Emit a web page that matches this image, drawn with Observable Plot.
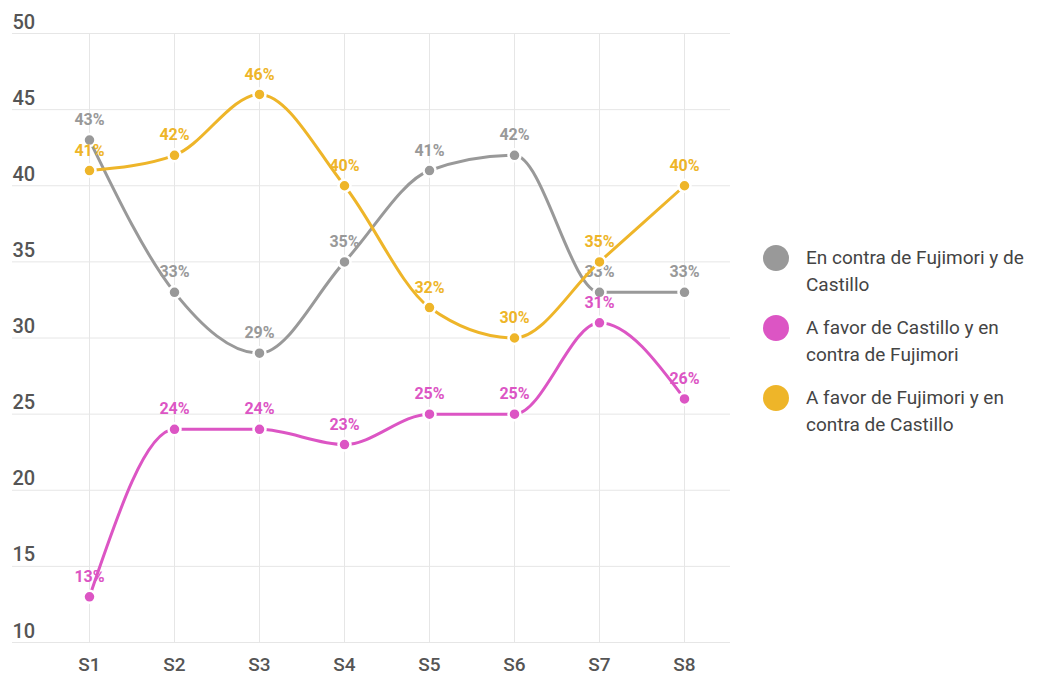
<!DOCTYPE html>
<html>
<head>
<meta charset="utf-8">
<script src="https://cdn.jsdelivr.net/npm/d3@7"></script>
<script src="https://cdn.jsdelivr.net/npm/@observablehq/plot@0.6"></script>
<style>
  body { margin: 0; background: #fff; font-family: Roboto, "Noto Sans", sans-serif; }
  #wrap { display: flex; align-items: center; width: 1047px; height: 675px; }
  #legend { margin-left: 18px; width: 284px; padding-top: 22px; }
  .item { display: flex; align-items: flex-start; margin: 0 0 16px 0; }
  .sw { width: 26px; height: 26px; border-radius: 50%; flex: none; margin-top: 1px; }
  .lab { margin-left: 17px; font-size: 19px; line-height: 27px; color: #444; }
</style>
</head>
<body>
<div id="wrap"><div id="chart"></div><div id="legend"></div></div>
<script>
const categories = ["S1", "S2", "S3", "S4", "S5", "S6", "S7", "S8"];
const seriesNames = [
  "En contra de Fujimori y de Castillo",
  "A favor de Castillo y en contra de Fujimori",
  "A favor de Fujimori y en contra de Castillo"
];
const enContraAmbos = [43, 33, 29, 35, 41, 42, 33, 33];
const aFavorCastillo = [13, 24, 24, 23, 25, 25, 31, 26];
const aFavorFujimori = [41, 42, 46, 40, 32, 30, 35, 40];
const yTicks = [10, 15, 20, 25, 30, 35, 40, 45, 50];
const colors = ["#999999", "#dc55c4", "#eeb529"];

const seriesValues = [enContraAmbos, aFavorCastillo, aFavorFujimori];
const data = [];
seriesNames.forEach((name, i) => {
  categories.forEach((c, j) => data.push({ series: name, cat: c, value: seriesValues[i][j] }));
});

const marks = [
  Plot.gridY(yTicks, { stroke: "#e6e6e6", strokeOpacity: 1, strokeWidth: 1 }),
  Plot.gridX(categories, { stroke: "#e6e6e6", strokeOpacity: 1, strokeWidth: 1 }),
  Plot.axisY(yTicks, {
    tickSize: 0, tickPadding: 0, textAnchor: "start", lineAnchor: "bottom", dy: -5,
    fontSize: 20, fontWeight: 500, fill: "#555", label: null
  }),
  Plot.axisX(categories, {
    tickSize: 0, tickPadding: 15, fontSize: 19, fontWeight: 500, fill: "#555", label: null
  })
];
seriesNames.forEach((name, i) => {
  const d = data.filter(r => r.series === name);
  marks.push(Plot.line(d, { x: "cat", y: "value", stroke: colors[i], strokeWidth: 3, curve: "monotone-x" }));
  marks.push(Plot.dot(d, { x: "cat", y: "value", r: 6, fill: colors[i], stroke: "#fff", strokeWidth: 2.5 }));
  marks.push(Plot.text(d, {
    x: "cat", y: "value", text: r => r.value + "%", dy: -20, fill: colors[i],
    fontSize: 16, fontWeight: "bold"
  }));
});

const chart = Plot.plot({
  width: 745,
  height: 675,
  marginTop: 33,
  marginBottom: 33,
  marginLeft: 12,
  marginRight: 15,
  style: { fontFamily: "Roboto, sans-serif", background: "#fff" },
  x: { type: "point", domain: categories, padding: 0, insetLeft: 74, insetRight: 43, label: null },
  y: { domain: [10, 50], label: null },
  marks
});
document.getElementById("chart").appendChild(chart);

const legend = document.getElementById("legend");
seriesNames.forEach((name, i) => {
  const it = document.createElement("div");
  it.className = "item";
  it.innerHTML = `<span class="sw" style="background:${colors[i]}"></span><span class="lab">${name}</span>`;
  legend.appendChild(it);
});
</script>
</body>
</html>
